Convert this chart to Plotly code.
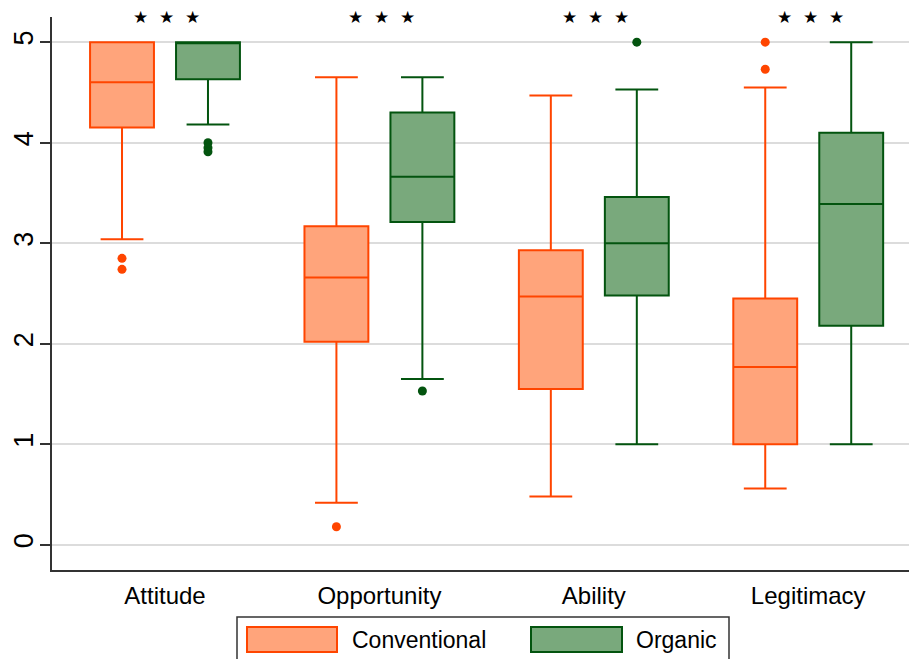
import plotly.graph_objects as go

# ---- data -------------------------------------------------------------
categories = ["Attitude", "Opportunity", "Ability", "Legitimacy"]
series = ["Conventional", "Organic"]

conv_lower = [3.04, 0.42, 0.48, 0.56]
conv_q1 = [4.15, 2.02, 1.55, 1.00]
conv_median = [4.60, 2.66, 2.47, 1.77]
conv_q3 = [5.00, 3.17, 2.93, 2.45]
conv_upper = [5.00, 4.65, 4.47, 4.55]
conv_outliers = [[2.85, 2.74], [0.18], [], [5.00, 4.73]]

org_lower = [4.18, 1.65, 1.00, 1.00]
org_q1 = [4.63, 3.21, 2.48, 2.18]
org_median = [5.00, 3.66, 3.00, 3.39]
org_q3 = [5.00, 4.30, 3.46, 4.10]
org_upper = [5.00, 4.65, 4.53, 5.00]
org_outliers = [[4.00, 3.95, 3.91], [1.53], [5.00], []]

significance = ["★", "★", "★"]
y_ticks = [0, 1, 2, 3, 4, 5]

# ---- style ------------------------------------------------------------
W, H = 909, 659
ML, MR, MT, MB = 52, 0, 17, 89
FONT = "Arial, Liberation Sans, sans-serif"

conv_line, conv_fill = "#FF4500", "#FFA47B"
org_line, org_fill = "#03540F", "#79A97C"

offset = 0.2005      # half distance between paired boxes (category units)
box_width = 0.298
positions = list(range(len(categories)))


def px_x(p):
    return (p - ML) / (W - ML - MR)


def px_y(p):
    return (H - MB - p) / (H - MT - MB)


fig = go.Figure()

groups = [
    (series[0], -offset, conv_lower, conv_q1, conv_median, conv_q3, conv_upper,
     conv_outliers, conv_line, conv_fill),
    (series[1], offset, org_lower, org_q1, org_median, org_q3, org_upper,
     org_outliers, org_line, org_fill),
]

for name, dx, lo, q1, med, q3, hi, outs, lc, fc in groups:
    xs = [p + dx for p in positions]
    fig.add_trace(go.Box(
        name=name, x=xs, q1=q1, median=med, q3=q3,
        lowerfence=lo, upperfence=hi,
        boxpoints=False, width=box_width, whiskerwidth=0.67,
        line=dict(color=lc, width=2), fillcolor=fc,
        showlegend=False, hoverinfo="skip",
    ))
    ox, oy = [], []
    for x, vals in zip(xs, outs):
        for v in vals:
            ox.append(x)
            oy.append(v)
    fig.add_trace(go.Scatter(
        x=ox, y=oy, mode="markers",
        marker=dict(color=lc, size=9, line=dict(width=0)),
        showlegend=False, hoverinfo="skip",
    ))

# significance stars above each pair
for p in positions:
    for k, s in enumerate(significance):
        fig.add_annotation(
            x=p, y=1, xref="x", yref="paper", yanchor="middle",
            text=s, showarrow=False, xshift=(k - 1) * 26 + 2, yshift=0,
            font=dict(family="DejaVu Sans", size=17, color="black"),
        )

# legend drawn as a framed box with swatches
shapes = [
    dict(type="rect", xref="paper", yref="paper",
         x0=px_x(237), x1=px_x(729), y0=px_y(680), y1=px_y(617),
         line=dict(color="#333333", width=1.5), fillcolor="white"),
    dict(type="rect", xref="paper", yref="paper",
         x0=px_x(247), x1=px_x(337), y0=px_y(652), y1=px_y(627),
         line=dict(color=conv_line, width=2), fillcolor=conv_fill),
    dict(type="rect", xref="paper", yref="paper",
         x0=px_x(531), x1=px_x(622), y0=px_y(652), y1=px_y(627),
         line=dict(color=org_line, width=2), fillcolor=org_fill),
]
for label, left in [(series[0], 350), (series[1], 634)]:
    fig.add_annotation(
        x=px_x(left), y=px_y(640), xref="paper", yref="paper",
        xanchor="left", yanchor="middle", text=label, showarrow=False,
        font=dict(family=FONT, size=23, color="black"),
    )

fig.update_layout(
    width=W, height=H,
    margin=dict(l=ML, r=MR, t=MT, b=MB, pad=0),
    paper_bgcolor="white", plot_bgcolor="white",
    showlegend=False, shapes=shapes,
    xaxis=dict(
        range=[-0.527, 3.47], tickmode="array", tickvals=positions,
        ticktext=categories, ticks="", showgrid=False, zeroline=False,
        showline=True, linecolor="#333333", linewidth=1.5,
        tickfont=dict(family=FONT, size=24, color="black"),
        ticklabelstandoff=3,
    ),
    yaxis=dict(
        range=[-0.25, 5.25], tickmode="array", tickvals=y_ticks,
        ticks="outside", ticklen=10, tickwidth=1.5, tickcolor="#333333",
        tickangle=-90, showgrid=True, gridcolor="#DCDCDC", gridwidth=1.5,
        zeroline=False, showline=True, linecolor="#333333", linewidth=1.5,
        tickfont=dict(family=FONT, size=27, color="black"),
        ticklabelstandoff=-4,
    ),
)

fig.write_html("out.html")
